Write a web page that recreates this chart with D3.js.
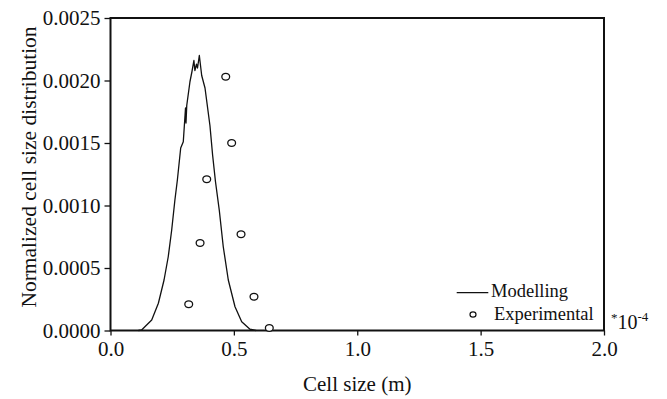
<!DOCTYPE html>
<html><head><meta charset="utf-8">
<script src="https://cdn.jsdelivr.net/npm/d3@7"></script>
<style>
html,body{margin:0;padding:0;background:#fff;}
svg text{font-family:"Liberation Serif","Times New Roman",serif;fill:#111;}
</style></head>
<body><svg id="chart" width="667" height="399"></svg>
<script>
// ---- data ----
const modelX = [0.113,0.126,0.167,0.194,0.217,0.234,0.248,0.261,0.271,0.2845,0.295,0.299,0.304,0.306,0.309,0.322,0.330,0.338,0.342,0.3485,0.3526,0.360,0.3696,0.383,0.403,0.414,0.4255,0.441,0.457,0.4774,0.5046,0.5317,0.5653,0.590];
const modelY = [0,0.000004,0.000084,0.000218,0.000404,0.00059,0.000804,0.001044,0.001204,0.00146,0.00151,0.00163,0.00178,0.00166,0.0018,0.00199,0.00207,0.00216,0.00208,0.00213,0.0021,0.0022,0.00204,0.00194,0.00164,0.0014,0.00119,0.00096,0.00067,0.000404,0.00019,0.00007,0.00001,0];
const expX = [0.467,0.491,0.390,0.529,0.363,0.5815,0.317,0.6436];
const expY = [0.00203,0.0015,0.00121,0.00077,0.0007,0.00027,0.00021,0.00002];
const xTicks = [0,0.5,1.0,1.5,2.0];
const yTicks = [0,0.0005,0.0010,0.0015,0.0020,0.0025];
const legendLabels = ["Modelling","Experimental"];

const FONT = "'Liberation Serif', 'Times New Roman', serif";
const svg = d3.select("#chart");
const L=110.5, R=604, T=18, B=330.5;
const x = d3.scaleLinear().domain([0,2]).range([L,R]);
const y = d3.scaleLinear().domain([0,0.0025]).range([B,T]);

// axes
const xAxis = svg.append("g").attr("transform",`translate(0,${B})`)
  .call(d3.axisBottom(x).tickValues(xTicks).tickFormat(d3.format(".1f")).tickSize(5).tickPadding(8));
const yAxis = svg.append("g").attr("transform",`translate(${L},0)`)
  .call(d3.axisLeft(y).tickValues(yTicks).tickFormat(d3.format(".4f")).tickSize(6).tickPadding(4));
[xAxis,yAxis].forEach(a=>{
  a.attr("font-family",FONT).attr("font-size",21);
  a.select(".domain").remove();
  a.selectAll(".tick line").attr("stroke","#111").attr("stroke-width",1.3);
  a.selectAll(".tick text").attr("font-family",FONT).attr("font-size",21).attr("fill","#111");
});
xAxis.selectAll(".tick text").attr("dy","0.71em").attr("y",11);
// frame
svg.append("rect").attr("x",L).attr("y",T).attr("width",R-L).attr("height",B-T)
  .attr("fill","none").attr("stroke","#111").attr("stroke-width",2);

// model line
const pts = modelX.map((v,i)=>[v,modelY[i]]);
svg.append("path").datum(pts)
  .attr("fill","none").attr("stroke","#111").attr("stroke-width",1.3).attr("stroke-linejoin","round")
  .attr("d", d3.line().x(d=>x(d[0])).y(d=>y(d[1])));

// experimental
svg.append("g").selectAll("ellipse").data(expX.map((v,i)=>[v,expY[i]])).join("ellipse")
  .attr("cx",d=>x(d[0])).attr("cy",d=>y(d[1])).attr("rx",3.9).attr("ry",3.4)
  .attr("fill","#fff").attr("stroke","#111").attr("stroke-width",1.3);

// axis titles
svg.append("text").attr("x",(L+R)/2).attr("y",391).attr("text-anchor","middle")
  .attr("font-size",21).text("Cell size (m)");
svg.append("text").attr("transform","translate(35.5,167) rotate(-90)").attr("text-anchor","middle")
  .attr("font-size",21.5).text("Normalized cell size distribution");

// legend
const lg = svg.append("g");
lg.append("line").attr("x1",456.7).attr("x2",488.3).attr("y1",292.7).attr("y2",292.7)
  .attr("stroke","#111").attr("stroke-width",1.3);
lg.append("text").attr("x",491).attr("y",297.3).attr("font-size",18.5).text(legendLabels[0]);
lg.append("ellipse").attr("cx",473).attr("cy",314.5).attr("rx",3).attr("ry",2.6)
  .attr("fill","#fff").attr("stroke","#111").attr("stroke-width",1.2);
lg.append("text").attr("x",494).attr("y",320).attr("font-size",18.5).text(legendLabels[1]);

// multiplier
const m = svg.append("text").attr("x",611).attr("y",329.3).attr("font-size",20);
m.append("tspan").attr("font-size",13).attr("dy","-7").text("*");
m.append("tspan").attr("dy","7").text("10");
m.append("tspan").attr("font-size",13).attr("dy","-8").text("-4");
</script>
</body></html>
